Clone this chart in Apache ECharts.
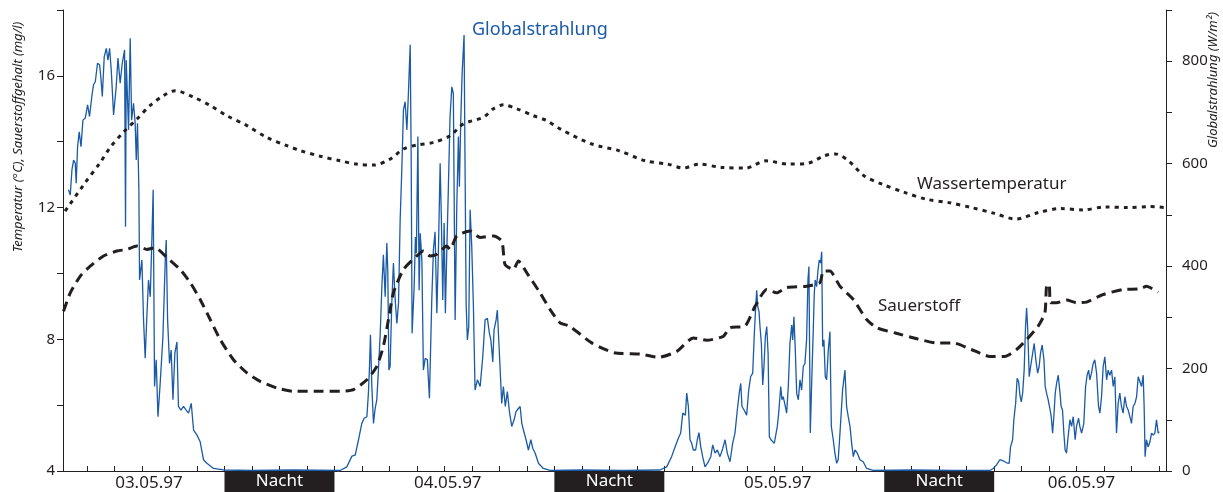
<!DOCTYPE html>
<html>
<head>
<meta charset="utf-8">
<script src="https://cdn.jsdelivr.net/npm/echarts@6/dist/echarts.min.js"></script>
<style>
  html, body { margin: 0; padding: 0; background: #fff; }
  #chart { width: 1223px; height: 492px; }
</style>
</head>
<body>
<div id="chart"></div>
<script>
// Time axis in hours, counted from midnight at the start of 03.05.97.
const dayLabels = ['03.05.97', '04.05.97', '05.05.97', '06.05.97'];
const dayLabelHours = [14.5, 36.25, 60.25, 82.35];
const hourTicks = [];
for (let h = 10; h <= 88; h += 2) hourTicks.push(h);

const nightSpans = [[20, 28], [44, 52], [68, 76]];
const nightLabel = 'Nacht';

const leftAxisTitle = 'Temperatur (°C), Sauerstoffgehalt (mg/l)';
const rightAxisTitle = 'Globalstrahlung (W/m²)';
const seriesNames = ['Globalstrahlung', 'Wassertemperatur', 'Sauerstoff'];

// Water temperature, °C
const waterTemp = [
  [8.4, 11.89], [9.87, 12.76], [10.96, 13.37], [11.69, 13.83], [12.65, 14.29], [13.63, 14.69],
  [14.6, 15.10], [15.56, 15.40], [16.41, 15.55], [17.75, 15.35], [18.96, 15.10], [20.17, 14.79],
  [21.63, 14.49], [23.08, 14.13], [24.54, 13.88], [25.51, 13.73], [26.96, 13.56], [28.41, 13.42],
  [29.63, 13.32], [30.84, 13.29], [32.05, 13.47], [33.02, 13.78], [34.0, 13.90], [35.2, 13.98],
  [36.41, 14.18], [37.38, 14.54], [38.83, 14.74], [39.56, 15.0], [40.29, 15.12], [41.27, 15.0],
  [42.47, 14.79], [43.45, 14.64], [44.41, 14.39], [46.72, 13.93], [48.67, 13.73], [50.62, 13.42],
  [52.25, 13.32], [53.38, 13.20], [54.52, 13.32], [56.15, 13.22], [57.93, 13.20], [59.4, 13.42],
  [61.02, 13.32], [62.48, 13.35], [63.62, 13.57], [64.43, 13.63], [65.4, 13.42], [66.55, 12.96],
  [67.84, 12.71], [69.47, 12.46], [71.09, 12.25], [72.72, 12.15], [74.34, 12.0], [75.96, 11.83],
  [77.59, 11.65], [79.21, 11.85], [80.84, 11.97], [82.46, 11.93], [84.09, 12.02], [85.71, 12.0],
  [87.34, 12.03], [88.48, 12.0]
];

// Dissolved oxygen, mg/l
const oxygen = [
  [8.29, 8.85], [8.78, 9.41], [9.51, 9.92], [10.23, 10.22], [11.2, 10.53], [12.17, 10.68],
  [12.9, 10.73], [13.63, 10.83], [14.36, 10.73], [14.96, 10.78], [15.81, 10.48], [16.78, 10.12],
  [17.51, 9.72], [18.23, 9.21], [18.96, 8.60], [19.69, 7.99], [20.65, 7.38], [21.63, 6.98],
  [22.6, 6.72], [23.81, 6.52], [25.02, 6.42], [26.96, 6.42], [28.41, 6.42], [29.38, 6.47],
  [30.36, 6.77], [31.08, 7.18], [31.56, 7.79], [31.93, 8.60], [32.29, 9.41], [33.02, 10.12],
  [33.99, 10.53], [34.47, 10.68], [34.96, 10.53], [35.45, 10.58], [36.17, 10.83], [36.41, 10.73],
  [36.9, 11.14], [37.87, 11.29], [38.6, 11.09], [39.56, 11.14], [40.18, 10.98], [40.41, 10.27],
  [41.02, 10.12], [41.38, 10.38], [41.99, 10.02], [42.96, 9.41], [43.69, 8.90], [44.41, 8.50],
  [45.1, 8.40], [46.72, 7.89], [48.35, 7.59], [50.3, 7.55], [51.59, 7.45], [52.9, 7.63],
  [54.11, 8.04], [55.08, 7.97], [56.29, 8.09], [56.78, 8.35], [57.87, 8.40], [58.6, 9.0],
  [59.45, 9.51], [60.17, 9.41], [60.9, 9.57], [62.35, 9.61], [63.32, 9.72], [63.56, 10.07],
  [64.05, 10.07], [64.78, 9.61], [65.75, 9.21], [66.72, 8.60], [67.45, 8.35], [68.81, 8.19],
  [70.44, 8.01], [71.75, 7.89], [73.04, 7.89], [74.34, 7.69], [75.69, 7.48], [76.78, 7.48],
  [77.63, 7.69], [78.36, 7.99], [79.2, 8.40], [79.69, 8.80], [79.81, 9.61], [80.0, 9.67],
  [80.1, 9.11], [80.54, 9.11], [81.27, 9.19], [81.99, 9.11], [82.72, 9.13], [83.93, 9.36],
  [85.38, 9.51], [86.6, 9.53], [87.08, 9.61], [87.93, 9.43]
];

// Global radiation, W/m²
const radiation = [
  [8.65, 549], [8.78, 539], [8.90, 588], [9.02, 607], [9.14, 601], [9.21, 562], [9.31, 633],
  [9.43, 662], [9.56, 633], [9.70, 685], [9.87, 689], [10.04, 715], [10.18, 692], [10.36, 734],
  [10.47, 754], [10.60, 760], [10.76, 796], [10.91, 793], [11.01, 767], [11.11, 731], [11.25, 809],
  [11.40, 825], [11.52, 802], [11.64, 825], [11.76, 783], [11.93, 695], [12.12, 750], [12.25, 806],
  [12.41, 757], [12.56, 796], [12.73, 822], [12.80, 477], [12.85, 802], [13.02, 666], [13.14, 845],
  [13.24, 685], [13.38, 718], [13.50, 679], [13.58, 607], [13.67, 679], [13.77, 549], [13.82, 373],
  [13.99, 412], [14.11, 295], [14.23, 220], [14.36, 308], [14.47, 373], [14.60, 340], [14.72, 457],
  [14.81, 549], [14.91, 165], [15.03, 217], [15.16, 106], [15.32, 171], [15.52, 262], [15.69, 412],
  [15.76, 451], [15.86, 295], [16.00, 210], [16.12, 236], [16.25, 139], [16.39, 230], [16.54, 252],
  [16.65, 126], [16.83, 119], [17.02, 126], [17.21, 119], [17.38, 113], [17.58, 132], [17.75, 80],
  [18.00, 70], [18.23, 57], [18.47, 22], [18.72, 15], [19.20, 5], [19.93, 2], [22.0, 1], [25.0, 2],
  [28.41, 1],
  [28.90, 8], [29.27, 29], [29.51, 31], [29.75, 61], [29.99, 93], [30.16, 103], [30.36, 106],
  [30.47, 152], [30.55, 204], [30.62, 266], [30.72, 165], [30.84, 93], [30.96, 122], [31.08, 139],
  [31.20, 197], [31.32, 262], [31.45, 360], [31.56, 422], [31.69, 340], [31.81, 445], [31.88, 392],
  [31.96, 197], [32.05, 204], [32.17, 327], [32.29, 406], [32.42, 334], [32.54, 288], [32.66, 327],
  [32.78, 490], [32.90, 588], [33.02, 705], [33.14, 721], [33.27, 666], [33.38, 737], [33.51, 832],
  [33.58, 620], [33.65, 269], [33.80, 360], [33.89, 457], [33.96, 425], [34.07, 653], [34.16, 353],
  [34.24, 464], [34.36, 412], [34.47, 197], [34.60, 220], [34.76, 217], [34.91, 142], [35.08, 334],
  [35.20, 432], [35.32, 467], [35.45, 308], [35.56, 425], [35.69, 601], [35.78, 490], [35.88, 334],
  [35.98, 484], [36.07, 308], [36.17, 425], [36.29, 555], [36.41, 692], [36.54, 750], [36.65, 737],
  [36.78, 295], [36.90, 516], [37.02, 653], [37.09, 555], [37.19, 685], [37.29, 777], [37.43, 851],
  [37.50, 601], [37.58, 327], [37.67, 256], [37.77, 282], [37.87, 510], [37.99, 438], [38.11, 321],
  [38.23, 158], [38.40, 178], [38.60, 165], [38.79, 223], [38.96, 295], [39.13, 298], [39.27, 269],
  [39.38, 256], [39.52, 213], [39.61, 275], [39.76, 295], [39.85, 314], [40.00, 230], [40.17, 132],
  [40.29, 165], [40.43, 126], [40.58, 155], [40.73, 116], [40.90, 87], [41.07, 100], [41.21, 116],
  [41.38, 122], [41.51, 126], [41.63, 93], [41.75, 80], [41.94, 61], [42.11, 41], [42.29, 61],
  [42.43, 44], [42.60, 35], [42.84, 15], [43.20, 5], [43.69, 1], [46.0, 2], [49.0, 1],
  [51.69, 2],
  [52.17, 8], [52.53, 28], [52.78, 47], [53.02, 64], [53.19, 74], [53.34, 113], [53.43, 116],
  [53.53, 109], [53.63, 152], [53.75, 126], [53.87, 61], [53.99, 54], [54.11, 41], [54.28, 41],
  [54.40, 61], [54.52, 75], [54.65, 47], [54.79, 28], [54.96, 8], [55.20, 18], [55.38, 28],
  [55.52, 51], [55.69, 35], [55.86, 41], [56.05, 28], [56.25, 44], [56.42, 61], [56.58, 35],
  [56.78, 18], [56.97, 54], [57.14, 74], [57.31, 119], [57.45, 152], [57.56, 171], [57.65, 126],
  [57.80, 119], [57.99, 109], [58.14, 158], [58.28, 184], [58.43, 191], [58.55, 269], [58.65, 321],
  [58.72, 353], [58.80, 321], [58.89, 311], [58.96, 282], [59.06, 249], [59.16, 168], [59.25, 204],
  [59.35, 262], [59.45, 282], [59.55, 230], [59.64, 67], [59.76, 61], [59.89, 64], [60.00, 54],
  [60.12, 51], [60.22, 87], [60.32, 113], [60.47, 165], [60.56, 139], [60.65, 145], [60.78, 129],
  [60.90, 113], [61.02, 165], [61.14, 249], [61.27, 285], [61.34, 256], [61.43, 301], [61.53, 236],
  [61.63, 152], [61.75, 139], [61.87, 178], [61.99, 158], [62.11, 204], [62.23, 210], [62.35, 256],
  [62.45, 373], [62.52, 399], [62.62, 74], [62.74, 191], [62.83, 269], [62.91, 347], [62.98, 373],
  [63.08, 360], [63.18, 392], [63.27, 412], [63.37, 406], [63.45, 428], [63.52, 243], [63.61, 256],
  [63.71, 184], [63.81, 178], [63.93, 236], [64.05, 272], [64.15, 87], [64.29, 61], [64.41, 35],
  [64.54, 15], [64.65, 22], [64.78, 74], [64.97, 158], [65.14, 197], [65.26, 126], [65.38, 106],
  [65.51, 87], [65.63, 54], [65.75, 28], [65.87, 41], [66.04, 35], [66.23, 22], [66.47, 18],
  [66.72, 5], [67.20, 1], [70.0, 2], [73.0, 1],
  [75.69, 1],
  [75.93, 5], [76.17, 12], [76.41, 22], [76.65, 20], [76.90, 16], [77.09, 15], [77.19, 47],
  [77.34, 61], [77.43, 100], [77.56, 132], [77.67, 181], [77.78, 174], [77.87, 148], [77.97, 135],
  [78.07, 152], [78.18, 197], [78.28, 282], [78.36, 318], [78.43, 282], [78.55, 184], [78.65, 204],
  [78.76, 223], [78.91, 249], [79.03, 217], [79.16, 191], [79.27, 204], [79.37, 230], [79.49, 246],
  [79.62, 217], [79.71, 165], [79.81, 152], [79.93, 139], [80.05, 122], [80.15, 106], [80.25, 74],
  [80.34, 106], [80.44, 152], [80.54, 171], [80.66, 187], [80.79, 152], [80.87, 126], [80.97, 119],
  [81.07, 74], [81.16, 41], [81.26, 35], [81.38, 67], [81.51, 100], [81.63, 87], [81.75, 106],
  [81.89, 61], [81.99, 87], [82.14, 103], [82.23, 87], [82.36, 74], [82.52, 93], [82.65, 165],
  [82.76, 187], [82.87, 197], [82.96, 178], [83.08, 191], [83.20, 210], [83.32, 217], [83.45, 191],
  [83.59, 126], [83.69, 113], [83.81, 145], [83.93, 204], [84.05, 223], [84.18, 178], [84.29, 197],
  [84.41, 187], [84.54, 197], [84.66, 165], [84.78, 184], [84.90, 74], [85.02, 132], [85.14, 152],
  [85.26, 126], [85.38, 113], [85.51, 145], [85.63, 126], [85.75, 119], [85.87, 106], [85.99, 93],
  [86.11, 126], [86.24, 132], [86.36, 145], [86.48, 184], [86.60, 187], [86.72, 165], [86.84, 187],
  [86.91, 126], [86.98, 28], [87.08, 61], [87.20, 47], [87.33, 57], [87.45, 74], [87.57, 70],
  [87.69, 74], [87.81, 100], [87.93, 74], [88.00, 77]
];

const FONT = '"Noto Sans", "Open Sans", sans-serif';
const INK = '#231f20';
const BLUE = '#1a5aa6';

const chart = echarts.init(document.getElementById('chart'), null, { renderer: 'canvas' });

chart.setOption({
  animation: false,
  backgroundColor: '#ffffff',
  textStyle: { fontFamily: FONT, color: INK },
  grid: [
    { left: 63, right: 57, top: 10, bottom: 21 },
    { left: 63, right: 57, top: 471, bottom: 0 }
  ],
  xAxis: [
    {
      type: 'value', gridIndex: 0, min: 8.25, max: 88.5,
      axisLine: { lineStyle: { color: INK, width: 1 } },
      axisTick: { show: true, inside: true, length: 5, customValues: hourTicks, lineStyle: { color: INK } },
      axisLabel: {
        customValues: dayLabelHours, margin: 4, fontSize: 17, color: INK, fontFamily: FONT,
        formatter: v => { const i = dayLabelHours.indexOf(v); return i >= 0 ? dayLabels[i] : ''; }
      },
      splitLine: { show: false }
    },
    { type: 'value', gridIndex: 1, min: 8.25, max: 88.5, show: false }
  ],
  yAxis: [
    {
      type: 'value', gridIndex: 0, min: 4, max: 18, interval: 2,
      axisLine: { show: true, lineStyle: { color: INK } },
      axisTick: { show: true, length: 6, lineStyle: { color: INK } },
      axisLabel: { fontSize: 15, color: INK, margin: 8, formatter: v => (v % 4 === 0 ? String(v) : '') },
      splitLine: { show: false }
    },
    {
      type: 'value', gridIndex: 0, position: 'right', min: 0, max: 900, interval: 100,
      axisLine: { show: true, lineStyle: { color: INK } },
      axisTick: { show: true, length: 6, lineStyle: { color: INK } },
      axisLabel: { fontSize: 15, color: INK, margin: 16, formatter: v => (v % 200 === 0 ? String(v) : '') },
      splitLine: { show: false }
    },
    { type: 'value', gridIndex: 1, min: 0, max: 1, show: false }
  ],
  series: [
    {
      name: seriesNames[0], type: 'line', xAxisIndex: 0, yAxisIndex: 1,
      data: radiation, showSymbol: false, z: 2,
      lineStyle: { color: BLUE, width: 1.3 }
    },
    {
      name: seriesNames[1], type: 'line', xAxisIndex: 0, yAxisIndex: 0,
      data: waterTemp, showSymbol: false, smooth: 0.3, z: 3,
      lineStyle: { color: INK, width: 3, type: [4, 5], cap: 'butt' }
    },
    {
      name: seriesNames[2], type: 'line', xAxisIndex: 0, yAxisIndex: 0,
      data: oxygen, showSymbol: false, smooth: 0.2, z: 3,
      lineStyle: { color: INK, width: 3, type: [10, 6], cap: 'butt' }
    },
    {
      name: nightLabel, type: 'line', xAxisIndex: 1, yAxisIndex: 2, data: [],
      markArea: {
        silent: true,
        itemStyle: { color: INK },
        label: { show: true, position: 'inside', color: '#ffffff', fontSize: 17, fontFamily: FONT },
        data: nightSpans.map(([a, b]) => [{ xAxis: a, name: nightLabel }, { xAxis: b }])
      }
    }
  ],
  graphic: [
    {
      type: 'text', x: 18, y: 137, rotation: Math.PI / 2,
      style: { text: leftAxisTitle, font: 'italic 13px ' + FONT, fill: INK, textAlign: 'center', textVerticalAlign: 'middle' }
    },
    {
      type: 'text', x: 1213, y: 80, rotation: Math.PI / 2,
      style: { text: rightAxisTitle, font: 'italic 13px ' + FONT, fill: INK, textAlign: 'center', textVerticalAlign: 'middle' }
    },
    {
      type: 'text', x: 472, y: 30,
      style: { text: seriesNames[0], font: '18px ' + FONT, fill: BLUE, textAlign: 'left', textVerticalAlign: 'middle' }
    },
    {
      type: 'text', x: 917, y: 184,
      style: { text: seriesNames[1], font: '17px ' + FONT, fill: INK, textAlign: 'left', textVerticalAlign: 'middle' }
    },
    {
      type: 'text', x: 878, y: 306,
      style: { text: seriesNames[2], font: '17px ' + FONT, fill: INK, textAlign: 'left', textVerticalAlign: 'middle' }
    }
  ]
});
</script>
</body>
</html>
